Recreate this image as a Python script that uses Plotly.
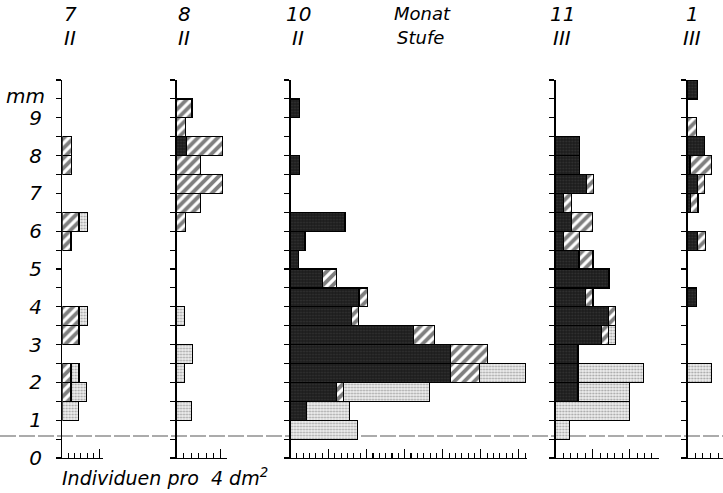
import plotly.graph_objects as go

W, H = 723, 493

# size classes (mm, class midpoints of 0.5 mm classes)
sizes = [0.75, 1.25, 1.75, 2.25, 2.75, 3.25, 3.75, 4.25, 4.75, 5.25,
         5.75, 6.25, 6.75, 7.25, 7.75, 8.25, 8.75, 9.25, 9.75]

months = ["7", "8", "10", "11", "1"]
stages = ["II", "II", "II", "III", "III"]

# Individuen pro 4 dm^2 (in tick units of each panel), per size class
m7_black   = [0, 0, 0, 0, 0, 0, 0, 0, 0, 0, 0, 0, 0, 0, 0, 0, 0, 0, 0]
m7_hatched = [0, 0, 1.4, 1.4, 0, 2.7, 2.7, 0, 0, 0, 1.4, 2.7, 0, 0, 1.5, 1.5, 0, 0, 0]
m7_dotted  = [0, 2.6, 2.5, 1.3, 0, 0, 1.3, 0, 0, 0, 0, 1.3, 0, 0, 0, 0, 0, 0, 0]

m8_black   = [0, 0, 0, 0, 0, 0, 0, 0, 0, 0, 0, 0, 0, 0, 0, 1.35, 0, 0, 0]
m8_hatched = [0, 0, 0, 0, 0, 0, 0, 0, 0, 0, 0, 1.2, 3.25, 6.2, 3.25, 4.9, 1.25, 2.1, 0]
m8_dotted  = [0, 2.0, 0, 1.1, 2.2, 0, 1.1, 0, 0, 0, 0, 0, 0, 0, 0, 0, 0, 0, 0]

m10_black   = [0, 2.5, 7.2, 25.2, 25.2, 19.4, 9.6, 10.8, 5.0, 1.2, 2.3, 8.6, 0, 0, 1.4, 0, 0, 1.4, 0]
m10_hatched = [0, 0, 1.2, 4.6, 5.9, 3.3, 1.15, 1.3, 2.3, 0, 0, 0, 0, 0, 0, 0, 0, 0, 0]
m10_dotted  = [10.6, 6.8, 13.5, 7.2, 0, 0, 0, 0, 0, 0, 0, 0, 0, 0, 0, 0, 0, 0, 0]

m11_black   = [0, 0, 3.0, 3.0, 3.0, 6.2, 7.1, 4.05, 7.2, 3.15, 1.1, 2.1, 1.1, 4.2, 3.2, 3.2, 0, 0, 0]
m11_hatched = [0, 0, 0, 0, 0, 0.9, 1.0, 1.0, 0, 1.9, 2.1, 2.9, 1.0, 0.95, 0, 0, 0, 0, 0]
m11_dotted  = [1.9, 10.0, 7.0, 8.9, 0, 1.0, 0, 0, 0, 0, 0, 0, 0, 0, 0, 0, 0, 0, 0]

m1_black   = [0, 0, 0, 0, 0, 0, 0, 1.2, 0, 0, 1.3, 0, 0.35, 1.3, 0.3, 2.2, 0, 0, 1.3]
m1_hatched = [0, 0, 0, 0, 0, 0, 0, 0, 0, 0, 1.0, 0, 1.0, 0.9, 2.8, 0, 1.2, 0, 0]
m1_dotted  = [0, 0, 0, 3.1, 0, 0, 0, 0, 0, 0, 0, 0, 0, 0, 0, 0, 0, 0, 0]

x_max = [6.5, 6.8, 37.2, 13.9, 4.65]
x_major = [[6], [6], [6, 12, 18, 24, 30, 36], [5, 10], []]
x_minor = [list(range(1, 6)), list(range(1, 6)), list(range(1, 38)),
           list(range(1, 14)), list(range(1, 5))]

y_major = [0, 1, 2, 3, 4, 5, 6, 7, 8, 9]
y_labels = ["0", "1", "2", "3", "4", "5", "6", "7", "8", "9"]
y_minor = [i * 0.5 for i in range(21)]

panels = [
    (m7_black, m7_hatched, m7_dotted),
    (m8_black, m8_hatched, m8_dotted),
    (m10_black, m10_hatched, m10_dotted),
    (m11_black, m11_hatched, m11_dotted),
    (m1_black, m1_hatched, m1_dotted),
]

# layout geometry (pixels)
x_px = [(62.3, 102.6), (176.5, 226.8), (290.5, 526.5), (555.7, 658.6), (687.7, 723.0)]
y0_px, y10_px = 458.0, 80.0

FONT = "DejaVu Sans"
LINE = dict(color="black", width=1.2)
styles = [
    dict(color="#262626", line=LINE,
         pattern=dict(shape=".", fgcolor="#4a4a4a", bgcolor="#1c1c1c", size=3, solidity=0.3)),
    dict(color="white", line=LINE,
         pattern=dict(shape="/", fgcolor="black", bgcolor="white", size=7, solidity=0.55)),
    dict(color="#e6e6e6", line=LINE,
         pattern=dict(shape=".", fgcolor="#555555", bgcolor="#eeeeee", size=3, solidity=0.35)),
]

fig = go.Figure()
for i, series in enumerate(panels):
    ax = "" if i == 0 else str(i + 1)
    for s, vals in enumerate(series):
        xs = [v if v else None for v in vals]
        fig.add_trace(go.Bar(
            x=xs, y=sizes, orientation="h", width=0.5,
            marker=styles[s], xaxis="x" + ax, yaxis="y" + ax,
            showlegend=False, hoverinfo="skip"))

ydom = [1 - y0_px / H, 1 - y10_px / H]
for i in range(5):
    ax = "" if i == 0 else str(i + 1)
    fig.layout["xaxis" + ax] = dict(
        domain=[x_px[i][0] / W, min(x_px[i][1] / W, 1.0)],
        range=[0, x_max[i]], anchor="y" + ax, automargin=False,
        showline=True, linecolor="black", linewidth=1.3,
        showgrid=False, zeroline=False, showticklabels=False,
        ticks="inside", tickvals=x_major[i], ticklen=9, tickwidth=1.2, tickcolor="black",
        minor=dict(tickvals=x_minor[i], ticks="inside", ticklen=5, tickwidth=1.1,
                   tickcolor="black", showgrid=False),
        fixedrange=True)
    yd = dict(
        domain=ydom, range=[0, 10], anchor="x" + ax, automargin=False,
        showline=True, linecolor="black", linewidth=1.3,
        showgrid=False, zeroline=False,
        ticks="outside", tickvals=y_major, ticklen=5, tickwidth=1.1, tickcolor="black",
        minor=dict(tickvals=y_minor, ticks="outside", ticklen=5, tickwidth=1.1,
                   tickcolor="black", showgrid=False),
        fixedrange=True)
    if i == 0:
        yd.update(ticktext=y_labels, showticklabels=True, ticklabelstandoff=10,
                  tickfont=dict(family=FONT, size=20, color="black", style="italic"))
    else:
        yd.update(showticklabels=False)
    fig.layout["yaxis" + ax] = yd

# grey dashed line from the scan
fig.add_shape(type="line", xref="paper", x0=0, x1=1, yref="y", y0=0.58, y1=0.58,
              layer="below", line=dict(color="#ababab", width=2, dash="16px,3px"))

def px_ann(text, x, y, size, xanchor="center"):
    fig.add_annotation(text=text, xref="paper", yref="paper", x=x / W, y=1 - y / H,
                       xanchor=xanchor, yanchor="middle", showarrow=False,
                       font=dict(family=FONT, size=size, color="black", style="italic"))

head_x = [70, 184, 298, 562, 692]
for i in range(5):
    px_ann(months[i], head_x[i], 14, 20)
    px_ann(stages[i], head_x[i], 38, 20)
px_ann("Monat", 422, 14, 18)
px_ann("Stufe", 420, 38, 18)
px_ann("mm", 25, 96, 20)
px_ann("Individuen pro  4 dm<sup>2</sup>", 60, 477, 19, xanchor="left")

fig.update_layout(width=W, height=H, margin=dict(l=0, r=0, t=0, b=0, autoexpand=False),
                  paper_bgcolor="white", plot_bgcolor="rgba(0,0,0,0)",
                  barmode="stack", bargap=0, showlegend=False)

fig.write_html("out.html", config={"displayModeBar": False, "staticPlot": True},
               post_script="document.body.style.margin='0px';document.body.style.padding='0px';")
